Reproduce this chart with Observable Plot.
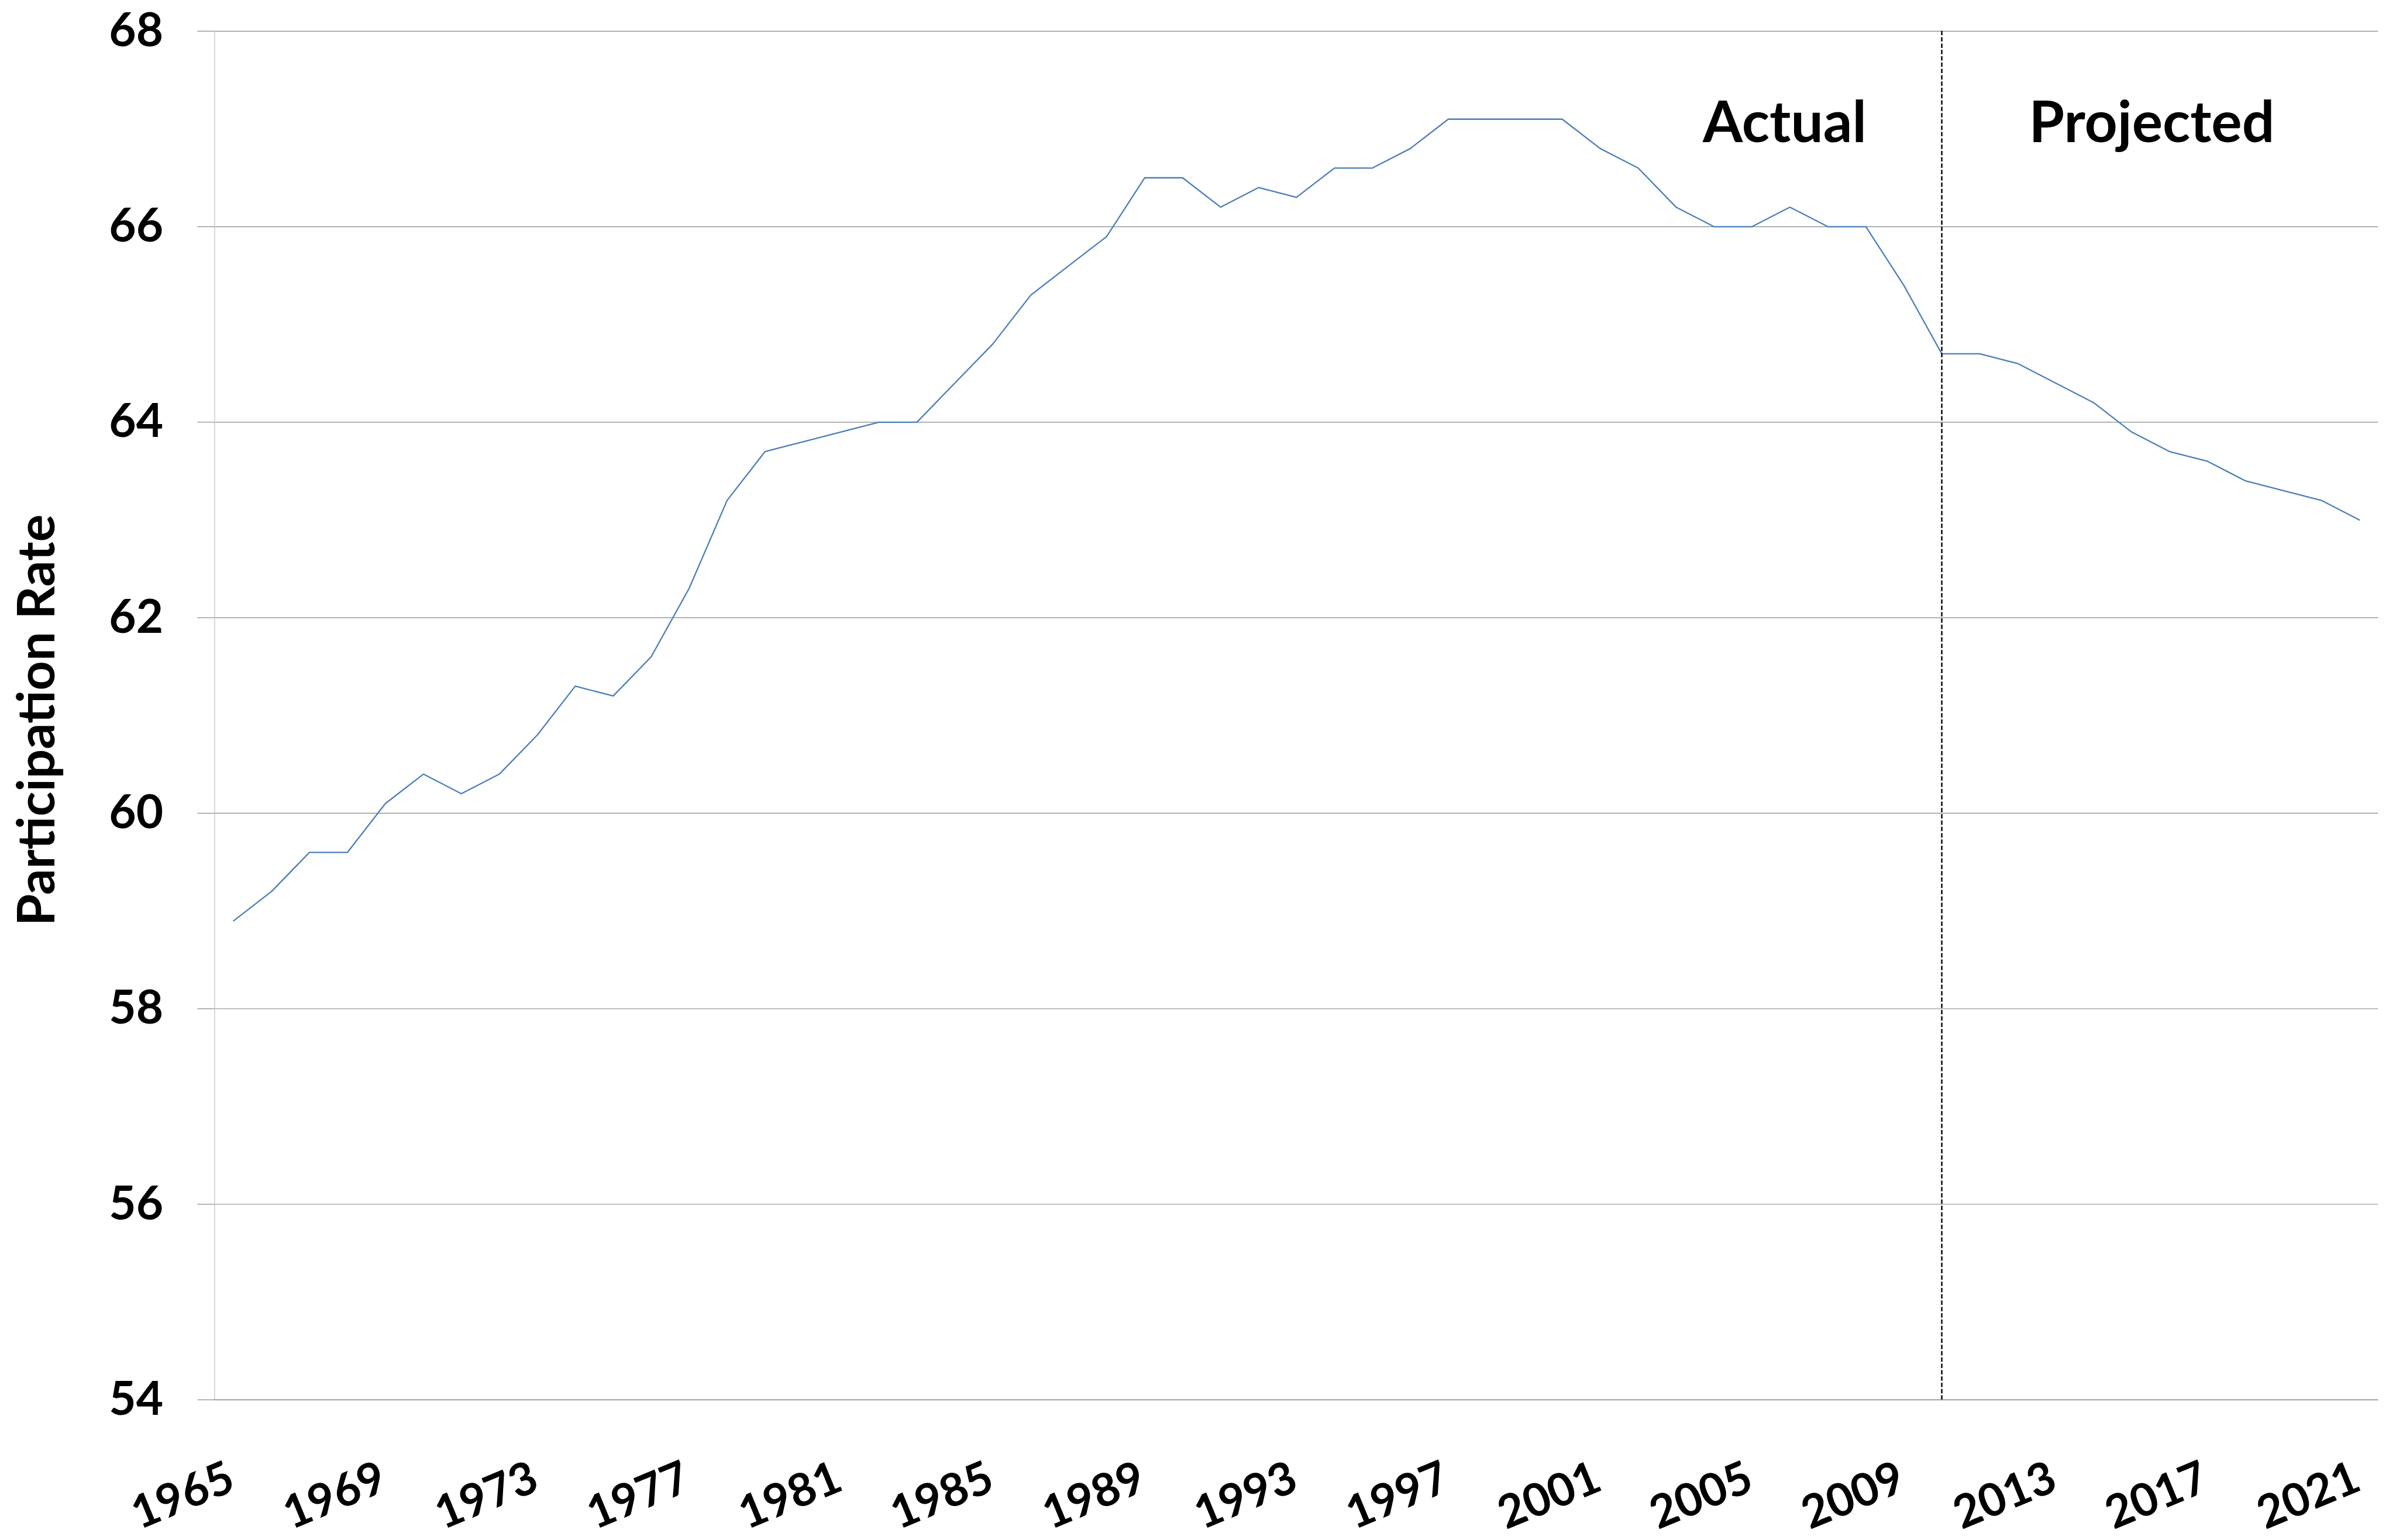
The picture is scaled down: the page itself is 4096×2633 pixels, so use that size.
<!DOCTYPE html>
<html>
<head>
<meta charset="utf-8">
<script src="https://cdn.jsdelivr.net/npm/d3@7"></script>
<script src="https://cdn.jsdelivr.net/npm/@observablehq/plot@0.6"></script>
<style>
  html, body { margin: 0; padding: 0; background: #ffffff; overflow: hidden; }
  #chart svg { display: block; }
</style>
</head>
<body>
<div id="chart"></div>
<script>
// ---- Data ----
const years = [
  1965, 1966, 1967, 1968, 1969, 1970, 1971, 1972, 1973, 1974,
  1975, 1976, 1977, 1978, 1979, 1980, 1981, 1982, 1983, 1984,
  1985, 1986, 1987, 1988, 1989, 1990, 1991, 1992, 1993, 1994,
  1995, 1996, 1997, 1998, 1999, 2000, 2001, 2002, 2003, 2004,
  2005, 2006, 2007, 2008, 2009, 2010, 2011, 2012, 2013, 2014,
  2015, 2016, 2017, 2018, 2019, 2020, 2021
];
const participationRate = [
  58.9, 59.2, 59.6, 59.6, 60.1, 60.4, 60.2, 60.4, 60.8, 61.3,
  61.2, 61.6, 62.3, 63.2, 63.7, 63.8, 63.9, 64.0, 64.0, 64.4,
  64.8, 65.3, 65.6, 65.9, 66.5, 66.5, 66.2, 66.4, 66.3, 66.6,
  66.6, 66.8, 67.1, 67.1, 67.1, 67.1, 66.8, 66.6, 66.2, 66.0,
  66.0, 66.2, 66.0, 66.0, 65.4, 64.7, 64.7, 64.6, 64.4, 64.2,
  63.9, 63.7, 63.6, 63.4, 63.3, 63.2, 63.0
];
const yTicks = [54, 56, 58, 60, 62, 64, 66, 68];
const xTickYears = [1965, 1969, 1973, 1977, 1981, 1985, 1989, 1993, 1997, 2001, 2005, 2009, 2013, 2017, 2021];
const dividerYear = 2010;
const annotationLabels = ["Actual", "Projected"];
const annotationYears = [2005.86, 2015.53];
const annotationValues = [67.05, 67.05];
const yTitle = "Participation Rate";

// ---- Build tables ----
const data = years.map((year, i) => ({year, rate: participationRate[i]}));
const annotations = annotationLabels.map((label, i) => ({label, year: annotationYears[i], value: annotationValues[i]}));

const W = 4096, H = 2633;
const FONT = "Lato, 'Open Sans', sans-serif";

const chart = Plot.plot({
  width: W,
  height: H,
  marginLeft: 366.4,
  marginRight: 30.7,
  marginTop: 52.8,
  marginBottom: 240.2,
  x: {domain: [years[0] - 0.5, years[years.length - 1] + 0.5], axis: null},
  y: {domain: [yTicks[0], yTicks[yTicks.length - 1]], axis: null},
  style: {fontFamily: FONT, background: "#ffffff", color: "#000000"},
  marks: [
    Plot.gridY(yTicks, {stroke: "#868686", strokeOpacity: 1, strokeWidth: 1.2}),
    Plot.axisY(yTicks, {
      tickSize: 29, tickPadding: 58.8,
      stroke: "#868686", strokeOpacity: 1, strokeWidth: 1.2,
      fontSize: 80, fontWeight: "bold", fill: "#000000",
      tickFormat: d3.format("d"),
      label: null
    }),
    Plot.ruleX([years[0] - 0.5], {stroke: "#bfbfbf", strokeWidth: 1.2}),
    Plot.ruleY([yTicks[0]], {stroke: "#9a9a9a", strokeWidth: 1.8}),
    Plot.line(data, {x: "year", y: "rate", stroke: "#4A7EBB", strokeWidth: 2.3}),
    Plot.ruleX([dividerYear], {stroke: "#000000", strokeWidth: 2.4, strokeDasharray: "7.5,3.3"}),
    Plot.text(xTickYears, {
      x: d => d, text: d => String(d),
      frameAnchor: "bottom", dy: 130, dx: -3,
      rotate: -22.5, textAnchor: "end", lineAnchor: "middle",
      fontSize: 78, fontWeight: "bold", fill: "#000000"
    }),
    Plot.text(annotations, {
      x: "year", y: "value", text: "label",
      textAnchor: "middle", lineAnchor: "middle",
      fontSize: 98, fontWeight: "bold", fill: "#000000"
    }),
    Plot.text([yTitle], {
      frameAnchor: "left", text: d => d,
      rotate: -90, dx: -273.9, dy: 8,
      textAnchor: "middle", lineAnchor: "bottom",
      fontSize: 88, fontWeight: "bold", fill: "#000000"
    })
  ]
});

document.getElementById("chart").appendChild(chart);
</script>
</body>
</html>
